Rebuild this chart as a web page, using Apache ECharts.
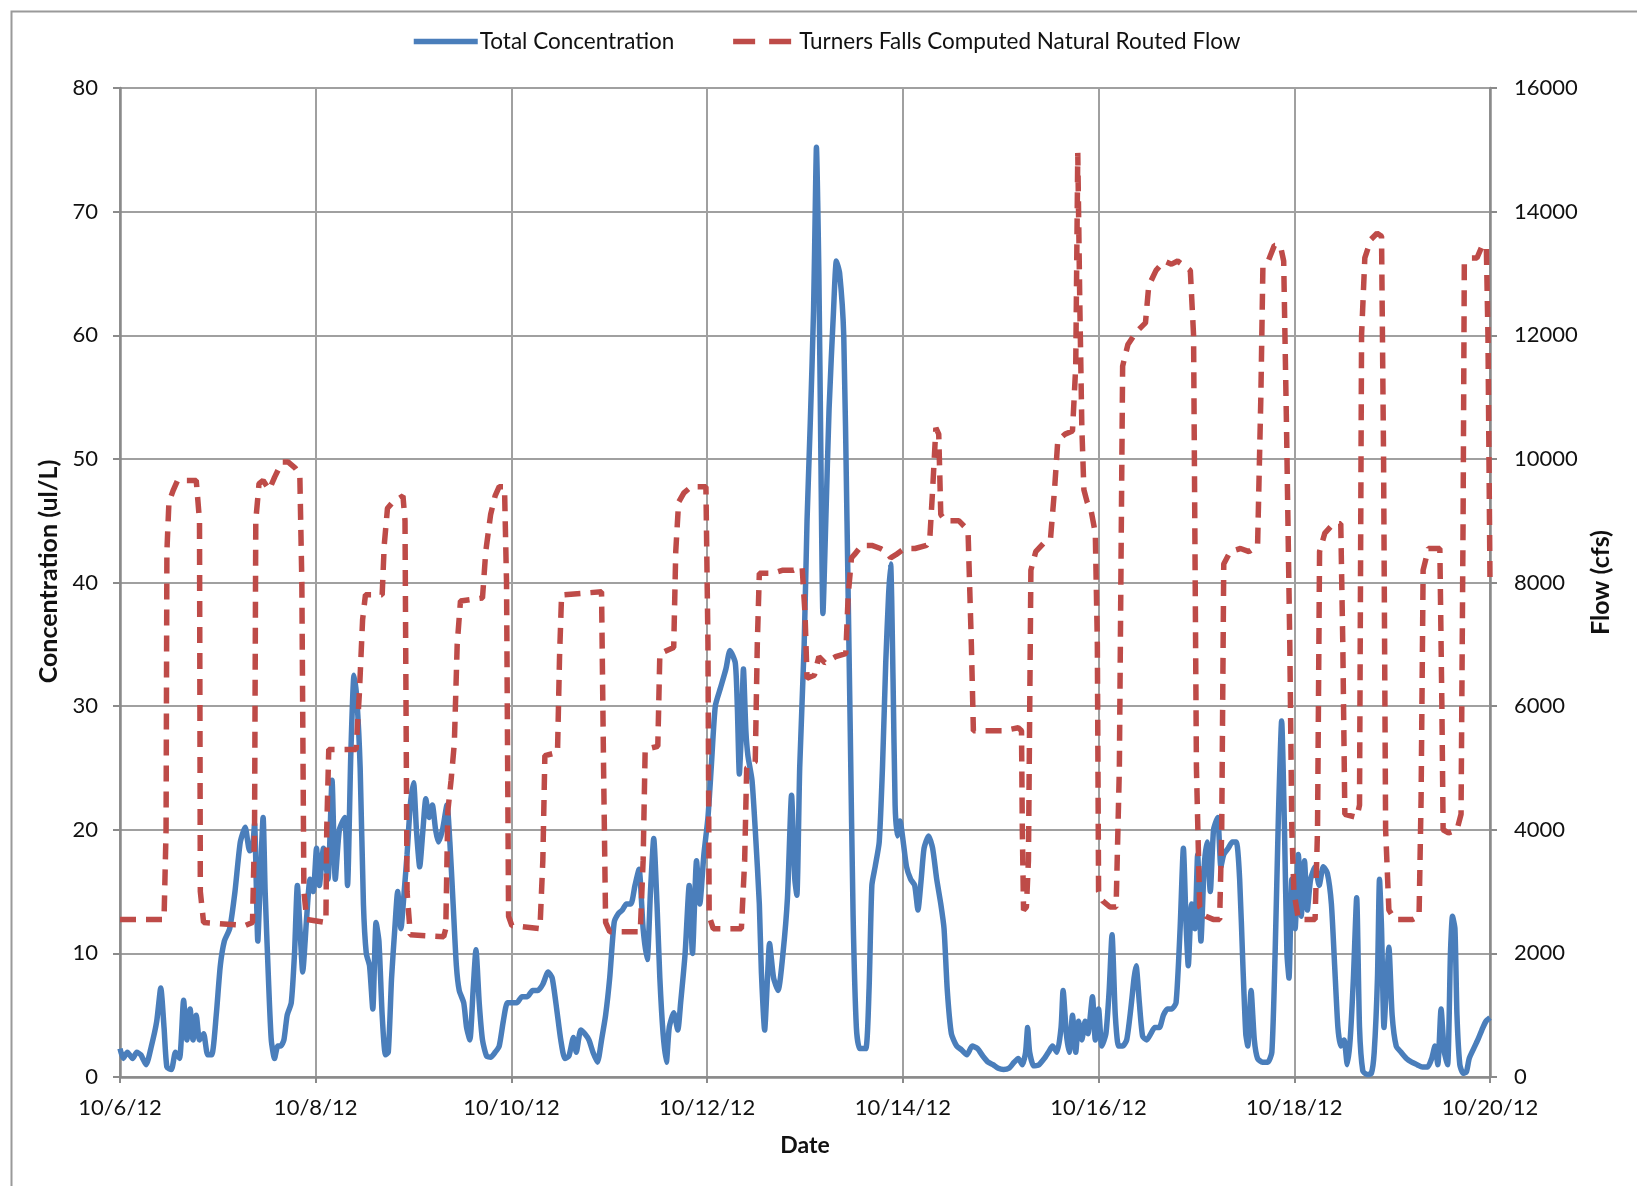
<!DOCTYPE html>
<html>
<head>
<meta charset="utf-8">
<script src="https://cdn.jsdelivr.net/npm/echarts@6/dist/echarts.min.js"></script>
<style>
html,body{margin:0;padding:0;background:#fff;}
#chart{width:1637px;height:1186px;}
</style>
</head>
<body>
<div id="chart"></div>
<script>
// x values are hours after 10/6/12 00:00
var xTickLabels = ['10/6/12','10/8/12','10/10/12','10/12/12','10/14/12','10/16/12','10/18/12','10/20/12'];
var concTicks = [0,10,20,30,40,50,60,70,80];
var flowTicks = [0,2000,4000,6000,8000,10000,12000,14000,16000];

var concHours = [0,0.8,1.8,3.1,4.1,5.1,6.4,7.7,9.0,10.0,10.8,11.5,12.6,13.6,14.6,15.6,16.4,17.2,17.9,18.7,19.5,20.5,21.5,22.5,23.6,24.6,25.6,26.9,28.2,29.5,30.7,31.8,32.5,33.0,33.8,34.3,35.1,35.6,36.4,37.1,37.9,38.7,39.4,40.2,41.0,42.0,42.8,43.5,44.3,44.8,45.8,46.6,47.4,48.2,48.9,49.9,51.0,52.0,52.8,53.8,55.1,55.8,56.6,57.4,58.1,58.9,59.7,60.4,61.2,62.0,62.8,63.5,64.3,65.1,65.8,66.6,67.4,68.1,68.9,69.7,70.4,71.2,72.0,72.7,73.5,74.3,75.0,75.8,76.6,77.4,78.1,79.1,80.2,80.9,81.7,82.5,83.2,84.3,85.0,85.8,86.6,87.3,88.1,88.9,89.9,90.9,92.0,93.0,94.0,95.0,96.1,97.3,98.6,99.9,101.2,102.5,103.7,105.0,106.0,107.1,108.1,109.1,110.1,111.2,111.9,113.0,114.0,115.0,116.0,117.1,118.1,119.1,120.1,121.2,122.2,123.2,124.2,125.3,126.3,127.3,128.3,129.3,130.1,130.9,131.7,132.4,133.2,134.0,134.7,135.8,136.8,137.5,138.6,139.6,140.4,141.4,142.2,143.2,144.2,145.0,146.0,147.3,148.6,149.6,150.9,151.4,151.9,152.4,152.9,153.5,154.0,155.0,155.8,156.8,157.3,158.1,158.8,159.3,160.3,161.4,162.6,163.7,164.7,165.5,166.0,166.7,167.8,168.5,169.3,170.1,170.6,170.8,171.4,171.9,172.4,173.1,173.9,175.0,175.7,176.5,177.5,178.3,179.1,179.8,180.6,181.4,182.9,183.7,184.4,185.2,186.2,187.0,187.8,188.5,189.0,189.6,190.1,190.6,191.3,192.1,192.9,193.9,194.9,195.7,196.5,197.2,198.3,199.3,200.3,201.3,202.1,202.9,203.9,205.2,206.4,207.7,209.0,210.3,211.6,212.9,214.1,215.4,216.7,218.0,219.3,220.3,221.3,222.1,222.6,223.1,224.1,225.4,226.7,227.7,228.7,229.8,230.8,231.3,232.1,232.8,233.6,234.4,235.1,235.9,236.7,237.4,238.5,239.2,240.0,240.8,241.8,242.6,243.3,244.1,244.9,245.9,246.9,247.9,248.7,249.2,250.0,250.8,251.8,252.8,253.8,254.9,255.9,256.9,257.9,259.0,260.0,260.8,261.5,262.0,262.8,263.6,264.3,265.1,265.9,266.6,267.4,268.2,269.2,270.0,270.7,271.8,272.8,273.8,274.6,275.4,276.1,276.6,277.4,278.2,279.0,280.2,281.5,282.5,283.3,284.1,284.9,285.6,286.2,286.7,287.4,288.2,289.0,289.7,290.5,291.2,292.0,293.1,294.1,295.1,296.1,297.1,297.9,298.7,299.4,300.2,301.0,301.7,302.5,303.3,304.0,304.8,305.8,306.9,307.6,308.4,308.9,309.4,310.0,310.7,311.2,312.0,313.0,314.2,315.5,316.8,318.1,319.4,320.7,321.7,322.5,323.2,324.0,324.8,325.6,326.3,326.8,327.4,327.9,328.6,329.4,330.2,330.9,332.0,333.0,334.0,335.0,336.0];
var concValues = [2.3,1.5,2,1.5,2,1.8,1.0,2.5,4.5,7.2,4,0.8,0.6,2,1.5,6.2,3,5.5,3,5,3,3.5,1.8,1.8,5,9,11,12,15,19,20.2,18.3,18.5,20.5,11,15,21,15,8,3,1.5,2.5,2.5,3,5,6,10,15.5,11,8.5,13,16,15,18.5,15.5,18.5,16,24,16,20,21,15.5,26,32.5,30.5,25,14,10,9,5.5,12.5,11,5,1.8,2,8,12,15,12,15,18,22,23.8,20,17,20,22.5,21,22,20,19,20,22,19,14,9,7,6,4,3,7,10.3,6,3,1.7,1.6,2,2.5,4.5,6,6,6,6.5,6.5,7,7,7.5,8.5,8,5.5,3,1.5,1.7,3.2,2,3.8,3.5,3,2,1.2,3,5,8,12.5,13.2,13.5,14,14,15.5,16.8,12,9.5,15,19.3,14,8,3.5,1.2,4,5.2,3.8,6,10,15.5,10,17.5,14,18,21,25,30,31.5,33,34.5,33.5,30,24.5,28,33,28,26,24,20,14,8.5,3.8,8,10.8,8,7,10,14.5,22.8,16,14.7,25,35,45,53,62,72,75.2,65,50,37.5,45,54,62,66,65,60,45,28,13,4,2.3,2.3,7,15.5,17,19,25,33.5,39,41.5,32,22,19.5,20.7,19,17,16,15.5,13.5,16,18.5,19.5,18.5,16,14,12,7,3.5,2.5,2.2,1.8,2.5,2.3,1.7,1.2,1,0.7,0.6,0.7,1.2,1.5,1,2,4,2,0.9,1,1.5,2,2.5,2,4,7,3.5,2,5,2,4.5,3,4.5,3.5,6.5,3,5.5,2.5,3.5,7,11.5,5,2.5,2.5,3,5.5,8,9,6,3.3,3,3.5,4,4,5,5.5,5.5,6,12,18.5,12,9,14,12,18,11,17,19,15,20,21,17,18,18.5,19,19,16,9,3.5,2.5,7,3,1.5,1.2,1.2,2,10,21,28.8,20,10,8,16,12,18,13,17.5,13.5,16,17,15.5,17,16.5,14,9,4,2.5,3,1,3,8,14.5,4,0.5,0.2,0.3,2,8,16,12,4,8,10.5,5,2.5,2,1.5,1.2,1,0.8,0.8,1.5,2.5,1,5.5,2,1,10,13,12,5,1,0.3,0.4,1.5,2.3,3,3.8,4.5,4.8];

var flowHours = [0,10.8,11.3,11.5,12.0,13.1,14.1,18.7,19.5,19.7,20.5,30.7,32.5,33.0,33.3,34.1,35.1,36.6,37.9,39.7,41.2,43.0,44.1,44.6,45.1,45.8,50.5,50.7,51.2,57.9,58.7,59.5,60.2,64.3,64.8,65.6,66.9,69.4,69.9,70.4,71.2,79.4,79.9,80.4,81.2,82.0,82.7,83.5,88.9,89.7,90.9,92.0,93.0,94.3,94.8,95.3,96.1,103.0,103.7,104.2,107.3,107.8,108.3,118.1,118.6,119.1,120.1,127.6,128.3,128.8,131.9,132.4,135.8,136.3,137.0,138.3,140.1,143.7,144.2,144.5,145.5,152.4,153.2,153.7,155.8,156.3,156.8,160.1,162.6,165.2,167.3,168.0,168.5,170.3,171.4,172.9,175.5,178.0,178.6,179.4,180.1,181.9,184.4,186.5,188.0,189.0,190.3,192.4,195.0,197.8,198.6,199.3,200.1,200.8,201.3,202.4,205.7,207.2,208.0,208.8,209.3,212.6,216.4,220.3,221.1,221.3,221.6,222.3,222.8,223.4,224.6,226.7,228.2,229.2,230.0,231.8,233.6,234.4,234.9,235.4,235.9,236.4,237.2,238.2,239.2,239.7,240.0,241.0,242.8,244.3,245.1,245.9,247.2,249.2,251.5,252.3,254.1,256.1,257.9,259.4,262.5,263.3,264.0,264.8,266.3,268.1,269.7,270.2,270.7,272.3,274.8,276.9,279.0,279.8,280.3,281.6,283.1,284.6,285.4,286.1,286.9,287.4,287.9,289.0,293.1,293.7,294.2,295.5,297.6,299.4,299.9,300.4,303.3,304.0,304.5,305.3,306.8,308.3,309.4,309.9,310.4,311.2,312.7,317.1,318.6,319.1,319.6,320.9,323.7,324.2,324.5,325.8,327.9,328.9,329.4,329.7,331.5,332.8,334.1,335.1,335.5,336.0];
var flowValues = [2550,2550,4000,8500,9300,9500,9650,9650,9000,3000,2500,2450,2500,4000,9000,9600,9650,9500,9700,9950,9950,9850,9750,8000,3000,2550,2500,4000,5300,5300,6200,7400,7800,7800,8600,9200,9300,9400,9000,3000,2300,2270,2400,4300,4800,5400,7000,7700,7750,8500,9100,9400,9550,9550,8000,2600,2450,2400,3500,5200,5250,6800,7800,7850,5000,2500,2350,2350,3500,5300,5350,6850,6950,8500,9300,9450,9550,9550,7000,2600,2400,2400,3500,5000,5100,7000,8150,8150,8200,8200,8250,7500,6450,6500,6800,6700,6800,6850,7800,8400,8450,8600,8600,8550,8500,8400,8450,8550,8550,8600,8700,9500,10500,10400,9100,9000,9000,8900,8800,7000,5600,5600,5600,5650,5600,4000,2700,2750,3500,8200,8500,8650,8700,9500,10300,10400,10450,11500,14950,12500,10500,9500,9300,9150,8800,7000,3000,2850,2750,2750,5000,11500,11850,12050,12200,12800,13050,13200,13150,13200,13050,12000,5000,2750,2600,2550,2550,4000,8300,8500,8550,8500,8600,11000,13100,13200,13450,13450,13200,10500,7000,4000,3000,2550,2550,4000,8500,8800,8950,8950,7000,4250,4200,4400,12000,13250,13550,13650,13600,10000,4000,2700,2550,2550,2600,4500,8200,8550,8550,6000,4000,3950,4000,4250,9000,13150,13250,13250,13450,13450,12000,8000];

function zip(a, b) { var r = []; for (var i = 0; i < a.length; i++) r.push([a[i], b[i]]); return r; }

var FONT = 'Lato, "Open Sans", sans-serif';
var BLUE = '#4a7ebb', RED = '#be4b48';
var DASH = [16, 10];
var chart = echarts.init(document.getElementById('chart'), null, {renderer: 'canvas'});
var gridColor = '#a0a0a0';
var axisColor = '#8a8a8a';

chart.setOption({
  backgroundColor: '#ffffff',
  animation: false,
  graphic: [{
    type: 'rect', left: 9, top: 9, silent: true,
    shape: {width: 1700, height: 1300},
    style: {fill: 'none', stroke: '#9a9a9a', lineWidth: 2}
  }],
  legend: {
    top: 25, left: 406,
    itemWidth: 64, itemHeight: 14, itemGap: 56,
    itemStyle: {opacity: 0, borderWidth: 0},
    textStyle: {fontFamily: FONT, fontSize: 22.5, color: '#111', padding: [0, 0, 0, -3]},
    data: [
      {name: 'Total Concentration', itemStyle: {opacity: 0}, lineStyle: {color: BLUE, width: 5.5, type: 'solid'}},
      {name: 'Turners Falls Computed Natural Routed Flow', itemStyle: {opacity: 0}, lineStyle: {color: RED, width: 5.5, type: [22, 14]}}
    ]
  },
  grid: {left: 120, right: 147, top: 88, bottom: 109, containLabel: false},
  xAxis: {
    type: 'value', min: 0, max: 336, interval: 48,
    name: 'Date', nameLocation: 'middle', nameGap: 57,
    nameTextStyle: {fontFamily: FONT, fontSize: 23, fontWeight: 'bold', color: '#111'},
    axisLine: {show: true, lineStyle: {color: axisColor, width: 2.5}},
    axisTick: {show: true, length: 6, lineStyle: {color: axisColor, width: 2}},
    axisLabel: {
      fontFamily: FONT, fontSize: 22, color: '#111', margin: 20,
      formatter: function (v) { return xTickLabels[Math.round(v / 48)]; }
    },
    splitLine: {show: true, lineStyle: {color: gridColor, width: 2}}
  },
  yAxis: [{
    type: 'value', min: 0, max: 80, interval: 10, position: 'left',
    name: 'Concentration (ul/L)', nameLocation: 'middle', nameGap: 51, nameRotate: 90,
    nameTextStyle: {fontFamily: FONT, fontSize: 25, fontWeight: 'bold', color: '#111', padding: [0, 0, 0, 22]},
    axisLine: {show: true, lineStyle: {color: axisColor, width: 2.5}},
    axisTick: {show: true, length: 7, lineStyle: {color: axisColor, width: 2}},
    axisLabel: {fontFamily: FONT, fontSize: 22, color: '#111', margin: 22,
      formatter: function (v) { return String(concTicks[Math.round(v / 10)]); }},
    splitLine: {show: true, lineStyle: {color: gridColor, width: 2}}
  }, {
    type: 'value', min: 0, max: 16000, interval: 2000, position: 'right',
    name: 'Flow (cfs)', nameLocation: 'middle', nameGap: 90, nameRotate: 90,
    nameTextStyle: {fontFamily: FONT, fontSize: 25, fontWeight: 'bold', color: '#111'},
    axisLine: {show: true, lineStyle: {color: axisColor, width: 2.5}},
    axisTick: {show: true, length: 7, lineStyle: {color: axisColor, width: 2}},
    axisLabel: {fontFamily: FONT, fontSize: 22, color: '#111', margin: 24,
      formatter: function (v) { return String(flowTicks[Math.round(v / 2000)]); }},
    splitLine: {show: false}
  }],
  series: [{
    name: 'Total Concentration', type: 'line', yAxisIndex: 0,
    data: zip(concHours, concValues),
    showSymbol: false, symbol: 'none', smooth: 0.2,
    lineStyle: {color: BLUE, width: 5.5},
    itemStyle: {color: BLUE},
    z: 2
  }, {
    name: 'Turners Falls Computed Natural Routed Flow', type: 'line', yAxisIndex: 1,
    data: zip(flowHours, flowValues),
    showSymbol: false, symbol: 'none',
    lineStyle: {color: RED, width: 5.5, type: DASH},
    itemStyle: {color: RED},
    z: 3
  }]
});
</script>
</body>
</html>
